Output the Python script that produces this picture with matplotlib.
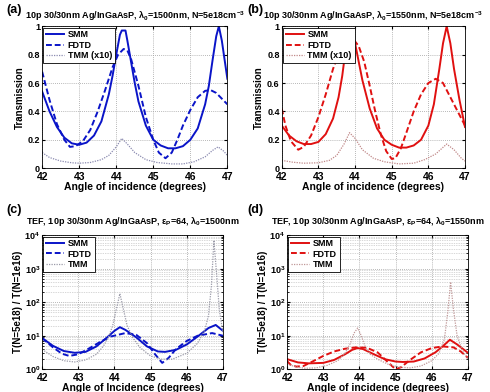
import numpy as np
import matplotlib
matplotlib.use("Agg")
import matplotlib.pyplot as plt
from matplotlib.ticker import LogLocator, NullFormatter

plt.rcParams.update({
    'font.family': 'Liberation Sans',
    'font.weight': 'bold',
    'axes.titleweight': 'bold',
    'axes.labelweight': 'bold',
    'font.size': 6.5,
    'mathtext.fontset': 'custom',
    'mathtext.rm': 'Liberation Sans:bold',
    'mathtext.it': 'Liberation Sans:bold',
    'mathtext.bf': 'Liberation Sans:bold',
    'mathtext.default': 'rm',
    'xtick.direction': 'in',
    'ytick.direction': 'in',
})

# ---- panel (a): lambda0 = 1500 nm, linear transmission
a_smm_x = [42.0, 42.2, 42.4, 42.6, 42.8, 43.0, 43.2, 43.4, 43.6, 43.8, 43.9, 44.0, 44.1, 44.15,
           44.25, 44.3, 44.4, 44.5, 44.6, 44.8, 45.0, 45.2, 45.4, 45.6, 45.8, 46.0, 46.2, 46.4,
           46.5, 46.6, 46.7, 46.77, 46.85, 46.95, 47.0]
a_smm_y = [0.54, 0.40, 0.29, 0.215, 0.175, 0.165, 0.18, 0.23, 0.33, 0.52, 0.65, 0.80, 0.94, 0.97,
           0.97, 0.90, 0.75, 0.60, 0.47, 0.30, 0.20, 0.16, 0.14, 0.14, 0.155, 0.20, 0.28, 0.45,
           0.58, 0.76, 0.93, 1.0, 0.90, 0.72, 0.63]
a_fdtd_x = [42.0, 42.2, 42.4, 42.6, 42.75, 42.9, 43.1, 43.3, 43.5, 43.7, 43.9, 44.05, 44.2, 44.3,
            44.4, 44.6, 44.8, 45.0, 45.15, 45.33, 45.5, 45.65, 45.8, 46.0, 46.2, 46.4, 46.55,
            46.7, 46.85, 47.0]
a_fdtd_y = [0.68, 0.48, 0.31, 0.20, 0.15, 0.155, 0.19, 0.27, 0.40, 0.55, 0.71, 0.80, 0.84, 0.83,
            0.77, 0.58, 0.36, 0.20, 0.11, 0.07, 0.11, 0.20, 0.30, 0.41, 0.50, 0.545, 0.55,
            0.53, 0.49, 0.45]
a_tmm_x = [42.0, 42.2, 42.5, 42.8, 43.0, 43.3, 43.6, 43.8, 44.0, 44.15, 44.3, 44.5, 44.8, 45.1,
           45.5, 45.8, 46.1, 46.4, 46.6, 46.75, 46.9, 47.0]
a_tmm_y = [0.11, 0.075, 0.05, 0.038, 0.035, 0.04, 0.06, 0.09, 0.15, 0.21, 0.17, 0.11, 0.06, 0.04,
           0.03, 0.03, 0.045, 0.08, 0.125, 0.15, 0.12, 0.09]

# ---- panel (b): lambda0 = 1550 nm, linear transmission
b_smm_x = [42.0, 42.2, 42.4, 42.6, 42.8, 43.0, 43.2, 43.4, 43.55, 43.65, 43.75, 43.82, 43.92,
           44.0, 44.1, 44.2, 44.4, 44.6, 44.8, 45.0, 45.2, 45.4, 45.6, 45.8, 46.0, 46.15, 46.3,
           46.4, 46.5, 46.6, 46.7, 46.85, 47.0]
b_smm_y = [0.30, 0.23, 0.19, 0.17, 0.17, 0.185, 0.24, 0.35, 0.50, 0.65, 0.85, 0.97, 0.96,
           0.88, 0.75, 0.62, 0.42, 0.28, 0.20, 0.165, 0.145, 0.145, 0.16, 0.20, 0.30, 0.45, 0.70,
           0.88, 1.0, 0.88, 0.70, 0.48, 0.29]
b_fdtd_x = [42.0, 42.1, 42.25, 42.45, 42.6, 42.8, 43.0, 43.2, 43.4, 43.6, 43.8, 43.95, 44.1,
            44.25, 44.4, 44.55, 44.7, 44.85, 45.0, 45.1, 45.25, 45.4, 45.6, 45.8, 46.0, 46.2,
            46.4, 46.6, 46.8, 47.0]
b_fdtd_y = [0.42, 0.30, 0.19, 0.13, 0.15, 0.23, 0.36, 0.52, 0.70, 0.84, 0.905, 0.91, 0.86,
            0.75, 0.58, 0.40, 0.24, 0.12, 0.065, 0.07, 0.14, 0.25, 0.40, 0.52, 0.60, 0.63,
            0.60, 0.50, 0.40, 0.30]
b_tmm_x = [42.0, 42.3, 42.6, 43.0, 43.3, 43.5, 43.7, 43.85, 44.0, 44.2, 44.5, 44.8, 45.2, 45.6,
           45.9, 46.2, 46.5, 46.7, 46.9, 47.0]
b_tmm_y = [0.055, 0.042, 0.035, 0.038, 0.055, 0.09, 0.17, 0.25, 0.21, 0.13, 0.07, 0.045, 0.03,
           0.035, 0.06, 0.10, 0.17, 0.13, 0.07, 0.05]

# ---- panel (c): ratio, lambda0 = 1500 nm (log)
c_smm_x = [42.0, 42.3, 42.6, 42.9, 43.2, 43.5, 43.8, 44.0, 44.15, 44.3, 44.6, 44.9, 45.2, 45.4,
           45.7, 46.0, 46.3, 46.6, 46.8, 47.0]
c_smm_y = [8.5, 5.0, 3.5, 3.1, 3.3, 4.8, 9.0, 14.0, 18.0, 15.0, 9.0, 4.8, 3.4, 3.3, 3.8, 5.5,
           9.5, 17.0, 21.0, 14.0]
c_fdtd_x = [42.0, 42.3, 42.55, 42.75, 43.0, 43.3, 43.6, 43.9, 44.3, 44.6, 44.9, 45.1, 45.32,
            45.5, 45.7, 46.0, 46.3, 46.7, 47.0]
c_fdtd_y = [8.5, 4.5, 2.9, 2.5, 2.8, 4.2, 6.5, 9.5, 12.0, 10.7, 6.0, 3.0, 1.55, 2.2, 4.0,
            7.0, 10.0, 12.0, 10.0]
c_tmm_x = [42.0, 42.3, 42.6, 42.9, 43.2, 43.5, 43.7, 43.85, 43.95, 44.05, 44.15, 44.25, 44.35,
           44.5, 44.7, 45.0, 45.3, 45.6, 46.0, 46.3, 46.5, 46.6, 46.68, 46.75, 46.82, 46.9, 47.0]
c_tmm_y = [3.9, 2.4, 1.8, 1.65, 1.9, 2.8, 5.0, 10.0, 20.0, 60.0, 180.0, 60.0, 20.0, 9.0, 4.5,
           2.5, 2.0, 2.0, 3.0, 6.0, 15.0, 40.0, 300.0, 7000.0, 800.0, 60.0, 12.0]

# ---- panel (d): ratio, lambda0 = 1550 nm (log)
d_smm_x = [42.0, 42.3, 42.6, 43.0, 43.3, 43.6, 43.8, 43.95, 44.1, 44.4, 44.7, 45.0, 45.2, 45.5,
           45.8, 46.1, 46.3, 46.5, 46.7, 47.0]
d_smm_y = [2.0, 1.6, 1.5, 1.55, 1.9, 2.8, 3.8, 4.3, 4.0, 2.8, 2.0, 1.7, 1.65, 1.7, 2.1, 3.2,
           4.8, 7.6, 5.5, 3.1]
d_fdtd_x = [42.0, 42.1, 42.25, 42.45, 42.7, 43.0, 43.3, 43.6, 43.9, 44.2, 44.5, 44.7, 44.9,
            45.0, 45.15, 45.4, 45.7, 46.0, 46.3, 46.6, 46.8, 47.0]
d_fdtd_y = [1.75, 1.35, 1.2, 1.25, 1.7, 2.5, 3.4, 4.1, 4.5, 4.4, 3.2, 2.0, 1.25, 1.0, 1.15,
            1.9, 3.2, 4.3, 4.8, 4.5, 3.4, 2.2]
d_tmm_x = [42.0, 42.3, 42.5, 42.8, 43.1, 43.4, 43.6, 43.75, 43.85, 43.95, 44.05, 44.15, 44.3,
           44.5, 44.8, 45.1, 45.4, 45.7, 46.0, 46.2, 46.35, 46.45, 46.52, 46.6, 46.7, 46.85, 47.0]
d_tmm_y = [1.4, 1.15, 1.07, 1.1, 1.3, 1.8, 3.0, 6.0, 12.0, 17.0, 10.0, 5.0, 2.8, 2.0, 1.4, 1.15,
           1.1, 1.25, 1.8, 3.0, 8.0, 60.0, 400.0, 60.0, 10.0, 3.5, 2.0]

blue = '#0a14c8'
red = '#e01010'
labels_lin = ['SMM', 'FDTD', 'TMM (x10)']
labels_log = ['SMM', 'FDTD', 'TMM']

fig = plt.figure(figsize=(4.9, 3.92), dpi=100)
ax_a = fig.add_axes([0.086, 0.571, 0.378, 0.362])
ax_b = fig.add_axes([0.575, 0.571, 0.374, 0.362])
ax_c = fig.add_axes([0.086, 0.058, 0.369, 0.342])
ax_d = fig.add_axes([0.586, 0.058, 0.369, 0.342])


def draw(ax, series, color, tmm_color, labels, log):
    (sx, sy), (fx, fy), (tx, ty) = series
    ax.plot(sx, sy, color=color, lw=1.4, label=labels[0])
    ax.plot(fx, fy, color=color, lw=1.4, ls=(0, (3, 1.5)), label=labels[1])
    ax.plot(tx, ty, color=tmm_color, lw=0.9, ls=(0, (1, 1)), label=labels[2])
    ax.set_xlim(42, 47)
    ax.set_xticks([42, 43, 44, 45, 46, 47])
    if log:
        ax.set_yscale('log')
        ax.set_ylim(1, 1e4)
        ax.yaxis.set_major_locator(LogLocator(base=10, numticks=10))
        ax.yaxis.set_minor_locator(LogLocator(base=10, subs=np.arange(2, 10), numticks=50))
        ax.yaxis.set_minor_formatter(NullFormatter())
        ax.grid(True, which='minor', axis='y', color='#b0b0b0', ls=(0, (1, 1.5)), lw=0.5)
    else:
        ax.set_ylim(0, 1)
        ax.set_yticks([0, 0.2, 0.4, 0.6, 0.8, 1])
        ax.set_yticklabels(['0', '0.2', '0.4', '0.6', '0.8', '1'])
    ax.grid(True, which='major', color='#a0a0a0', ls=(0, (1, 1.5)), lw=0.6)
    ax.tick_params(which='both', top=True, right=True, length=2.5, pad=1.5)
    ax.tick_params(which='minor', length=1.5)
    ax.tick_params(axis='x', labelsize=7.5, pad=3)
    for s in ax.spines.values():
        s.set_linewidth(0.6)
    leg = ax.legend(loc='upper left', fontsize=6.5, handlelength=2.0, handletextpad=0.4,
                    borderpad=0.3, labelspacing=0.15, borderaxespad=0.15, fancybox=False,
                    framealpha=1)
    leg.get_frame().set_edgecolor('black')
    leg.get_frame().set_linewidth(0.6)


draw(ax_a, [(a_smm_x, a_smm_y), (a_fdtd_x, a_fdtd_y), (a_tmm_x, a_tmm_y)],
     blue, '#8a8ab0', labels_lin, False)
draw(ax_b, [(b_smm_x, b_smm_y), (b_fdtd_x, b_fdtd_y), (b_tmm_x, b_tmm_y)],
     red, '#c08888', labels_lin, False)
draw(ax_c, [(c_smm_x, c_smm_y), (c_fdtd_x, c_fdtd_y), (c_tmm_x, c_tmm_y)],
     blue, '#9a9aa8', labels_log, True)
draw(ax_d, [(d_smm_x, d_smm_y), (d_fdtd_x, d_fdtd_y), (d_tmm_x, d_tmm_y)],
     red, '#c09898', labels_log, True)

ax_a.set_title('10p 30/30nm Ag/InGaAsP, λ$_0$=1500nm, N=5e18cm$^{-3}$', fontsize=6.5, pad=5)
ax_b.set_title('10p 30/30nm Ag/InGaAsP, λ$_0$=1550nm, N=5e18cm$^{-3}$', fontsize=6.5, pad=5)
ax_c.set_title('TEF, 10p 30/30nm Ag/InGaAsP, ε$_P$=64, λ$_0$=1500nm', fontsize=6.5, pad=8)
ax_d.set_title('TEF, 10p 30/30nm Ag/InGaAsP, ε$_P$=64, λ$_0$=1550nm', fontsize=6.5, pad=8)

ax_a.set_ylabel('Transmission', fontsize=7, labelpad=2)
ax_b.set_ylabel('Transmission', fontsize=7, labelpad=2)
ax_c.set_ylabel('T(N=5e18) / T(N=1e16)', fontsize=7, labelpad=1)
ax_d.set_ylabel('T(N=5e18) / T(N=1e16)', fontsize=7, labelpad=1)
ax_a.set_xlabel('Angle of incidence (degrees)', fontsize=7.5, labelpad=0)
ax_b.set_xlabel('Angle of incidence (degrees)', fontsize=7.5, labelpad=0)
ax_c.set_xlabel('Angle of Incidence (degrees)', fontsize=7.5, labelpad=0)
ax_d.set_xlabel('Angle of incidence (degrees)', fontsize=7.5, labelpad=0)

for lbl, x, y in [('(a)', 0.012, 0.99), ('(b)', 0.505, 0.99),
                  ('(c)', 0.012, 0.48), ('(d)', 0.505, 0.48)]:
    fig.text(x, y, lbl, fontsize=9, fontweight='bold', va='top', ha='left')

fig.savefig('out.png', dpi=100)
